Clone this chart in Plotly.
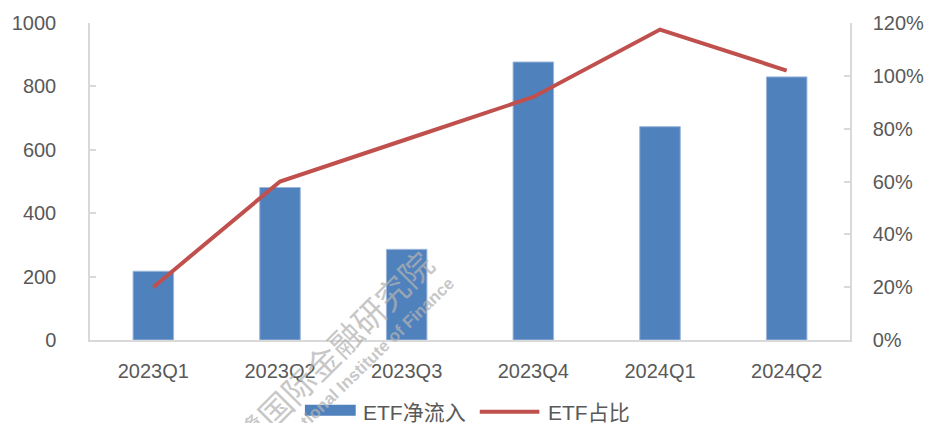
import plotly.graph_objects as go

# Quarterly ETF net inflow and ETF share
quarters = ["2023Q1", "2023Q2", "2023Q3", "2023Q4", "2024Q1", "2024Q2"]
etf_inflow = [217, 481, 286, 877, 673, 830]
etf_share = [0.20, 0.60, 0.76, 0.92, 1.175, 1.02]

left_ticks = [0, 200, 400, 600, 800, 1000]
right_ticks = [0, 0.2, 0.4, 0.6, 0.8, 1.0, 1.2]

BAR_BLUE = "#4F81BD"
LINE_RED = "#C0504D"
AXIS_GREY = "#D9D9D9"
TEXT_GREY = "#595959"
MARK_GREY = "rgba(178,178,178,0.72)"
FONT = "Liberation Sans, Noto Sans CJK SC, sans-serif"

fig = go.Figure()
fig.add_trace(go.Bar(
    x=quarters, y=etf_inflow, name="ETF净流入",
    marker=dict(color=BAR_BLUE, line=dict(color="#9DB7DC", width=1)),
    yaxis="y", showlegend=False,
))
fig.add_trace(go.Scatter(
    x=quarters, y=etf_share, name="ETF占比", mode="lines",
    line=dict(color=LINE_RED, width=4),
    yaxis="y2", showlegend=False,
))

W, H = 936, 423
L, R, T, B = 88, 70, 22, 83
pw, ph = W - L - R, H - T - B


def px(x):
    return (x - L) / pw


def py(y):
    return (H - B - y) / ph


# legend drawn as swatches + labels below the axis
shapes = [
    dict(type="rect", xref="paper", yref="paper",
         x0=px(308), x1=px(360), y0=py(416), y1=py(405),
         fillcolor=BAR_BLUE, line=dict(width=0)),
    dict(type="line", xref="paper", yref="paper",
         x0=px(487), x1=px(548), y0=py(412), y1=py(412),
         line=dict(color=LINE_RED, width=4)),
]

annotations = [
    dict(text="ETF净流入", xref="paper", yref="paper", x=px(365), y=py(413),
         xanchor="left", yanchor="middle", showarrow=False,
         font=dict(family=FONT, size=21, color=TEXT_GREY)),
    dict(text="ETF占比", xref="paper", yref="paper", x=px(555), y=py(413),
         xanchor="left", yanchor="middle", showarrow=False,
         font=dict(family=FONT, size=21, color=TEXT_GREY)),
    # watermark
    dict(text="鹭国际金融研究院", xref="paper", yref="paper", x=px(337), y=py(350),
         xanchor="center", yanchor="middle", showarrow=False, textangle=-45,
         font=dict(family="Noto Sans CJK SC", size=33, color=MARK_GREY)),
    dict(text="<b>International Institute of Finance</b>", xref="paper", yref="paper",
         x=px(362), y=py(372), xanchor="center", yanchor="middle",
         showarrow=False, textangle=-44,
         font=dict(family="Liberation Sans", size=17, color=MARK_GREY)),
]

fig.update_layout(
    width=W, height=H,
    margin=dict(l=L, r=R, t=T, b=B, pad=0),
    paper_bgcolor="white", plot_bgcolor="white",
    bargap=0.68,
    shapes=shapes, annotations=annotations,
    xaxis=dict(
        type="category", range=[-0.5, 5.5],
        showline=True, linecolor=AXIS_GREY, linewidth=1.5,
        showgrid=False, ticks="", ticklabelstandoff=12,
        tickfont=dict(family=FONT, size=20, color=TEXT_GREY),
    ),
    yaxis=dict(
        range=[0, 1000], tickvals=left_ticks,
        showline=True, linecolor=AXIS_GREY, linewidth=1.5,
        showgrid=False, zeroline=False,
        ticks="inside", ticklen=6, tickcolor=AXIS_GREY, tickwidth=1.5,
        ticklabelstandoff=28,
        tickfont=dict(family=FONT, size=20, color=TEXT_GREY),
    ),
    yaxis2=dict(
        range=[0, 1.2], tickvals=right_ticks, tickformat=".0%",
        overlaying="y", side="right",
        showline=True, linecolor=AXIS_GREY, linewidth=1.5,
        showgrid=False, zeroline=False,
        ticks="inside", ticklen=6, tickcolor=AXIS_GREY, tickwidth=1.5,
        ticklabelstandoff=17,
        tickfont=dict(family=FONT, size=20, color=TEXT_GREY),
    ),
)

fig.write_html("out.html")
